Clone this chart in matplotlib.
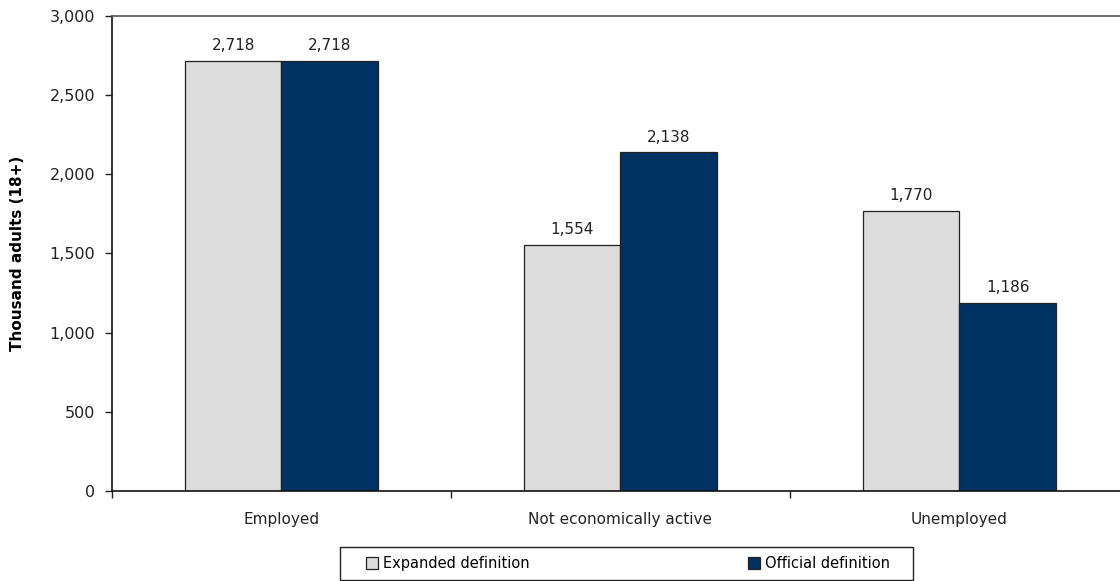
import matplotlib
matplotlib.use("Agg")
import matplotlib.pyplot as plt
import numpy as np
from matplotlib.patches import Patch, Rectangle
from matplotlib.ticker import FuncFormatter, FixedLocator

categories = ["Employed", "Not economically active", "Unemployed"]
expanded = [2718, 1554, 1770]
official = [2718, 2138, 1186]
series_names = ["Expanded definition", "Official definition"]

light = "#DCDCDC"
dark = "#003263"

plt.rcParams["font.family"] = ["DejaVu Sans"]

fig = plt.figure(figsize=(11.2, 5.81), dpi=100)
ax = fig.add_axes([0.1, 0.1549, 0.908, 0.8176])

x = np.arange(len(categories))
w = 0.285
b1 = ax.bar(x - w / 2, expanded, w, color=light, edgecolor="#222222", linewidth=0.9)
b2 = ax.bar(x + w / 2, official, w, color=dark, edgecolor="#222222", linewidth=0.9)

for bars, vals in ((b1, expanded), (b2, official)):
    for rect, v in zip(bars, vals):
        ax.text(rect.get_x() + rect.get_width() / 2, v + 50, f"{v:,}",
                ha="center", va="bottom", fontsize=11, color="#222222")

ax.set_xlim(-0.5, 2.5)
ax.set_ylim(0, 3000)
ax.set_yticks(np.arange(0, 3001, 500))
ax.yaxis.set_major_formatter(FuncFormatter(lambda v, p: f"{int(v):,}"))
ax.tick_params(axis="y", labelsize=11.5, length=5, width=1, colors="#222222", pad=7)

# category labels sit between the boundary ticks
ax.xaxis.set_major_locator(FixedLocator([-0.5, 0.5, 1.5, 2.5]))
ax.xaxis.set_minor_locator(FixedLocator(x))
ax.set_xticklabels([])
ax.set_xticklabels(categories, minor=True)
ax.tick_params(axis="x", which="major", length=5, width=1, color="#222222")
ax.tick_params(axis="x", which="minor", length=0, labelsize=11, pad=15, labelcolor="#222222")

ax.set_ylabel("Thousand adults (18+)", fontsize=11, fontweight="bold", labelpad=18)

for side in ("left", "bottom"):
    ax.spines[side].set_color("#111111")
    ax.spines[side].set_linewidth(1.2)
ax.spines["top"].set_color("#555555")
ax.spines["top"].set_linewidth(1.2)
ax.spines["right"].set_visible(False)

handles = [Patch(facecolor=light, edgecolor="#222222", linewidth=0.9),
           Patch(facecolor=dark, edgecolor="#222222", linewidth=0.9)]
leg = fig.legend(handles, series_names, loc="center", bbox_to_anchor=(0.5607, 0.030),
                 ncol=2, frameon=False,
                 handlelength=0.8, handleheight=0.8, handletextpad=0.35,
                 columnspacing=15.0, borderpad=0.3,
                 prop={"family": ["Liberation Sans Narrow", "DejaVu Sans"], "size": 10.5})

# legend box, wider than the entries
fig.patches.append(Rectangle((340 / 1120, 1 / 581), 573 / 1120, 33 / 581,
                             transform=fig.transFigure, fill=False,
                             edgecolor="#222222", linewidth=1.0))

fig.savefig("out.png", dpi=100)
